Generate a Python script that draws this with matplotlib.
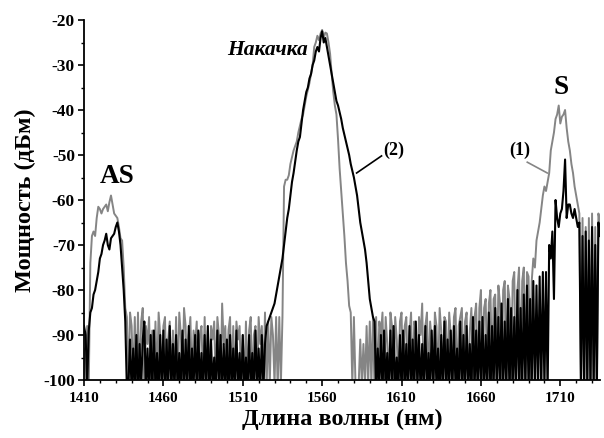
import numpy as np
import matplotlib
matplotlib.use("Agg")
import matplotlib.pyplot as plt
from matplotlib.ticker import MultipleLocator

plt.rcParams['font.family'] = ['Liberation Serif', 'DejaVu Serif']
plt.rcParams['font.weight'] = 'bold'
plt.rcParams['axes.unicode_minus'] = False

# wavelength grid, nm (1 nm step)
wl_start, wl_stop = 1410, 1735
wavelength = np.arange(wl_start, wl_stop + 1)

# Series (1) - grey, dBm
power_1 = [
    -93, -100, -88, -101, -74, -68, -67, -68, -64, -61.5,
    -62, -63, -62, -61.5, -61, -62.5, -60.5, -59, -61, -63,
    -63.5, -64, -66, -68.5, -69, -75, -84, -86, -101, -85,
    -88, -101, -86, -102, -85, -101, -87, -84, -102, -88,
    -92, -86, -101, -89, -102, -87, -101, -85, -90, -102,
    -88, -86, -101, -91, -87, -102, -89, -101, -86, -102,
    -85, -90, -101, -84, -88, -102, -90, -86, -101, -89,
    -92, -87, -102, -90, -88, -101, -86, -102, -89, -101,
    -88, -91, -87, -101, -86, -90, -102, -83, -92, -88,
    -101, -89, -86, -102, -88, -101, -87, -91, -88, -101,
    -90, -102, -87, -101, -89, -86, -102, -90, -88, -101,
    -86, -92, -88, -101, -85, -102, -87, -101, -86, -90,
    -101, -86, -102, -86, -101, -86, -57, -55.5, -55.5, -54.5,
    -52, -50.5, -49, -48, -47, -45, -43.5, -42, -41, -39,
    -37, -35.5, -34, -32, -30, -26, -25, -23.5, -24.5, -23,
    -22.2, -24, -22.8, -23, -25, -27.5, -32, -36, -39, -41,
    -46.5, -53, -58, -63, -68, -74, -78, -83.5, -85, -101,
    -86, -101, -102, -101, -91, -101, -92, -101, -88, -101,
    -87, -101, -86, -102, -86, -101, -87, -90, -85, -102,
    -86, -92, -101, -85, -88, -102, -86, -91, -101, -87,
    -85, -102, -88, -86, -101, -90, -85, -102, -87, -89,
    -101, -86, -90, -83, -102, -88, -85, -101, -87, -91,
    -102, -85, -88, -101, -84, -89, -102, -86, -87, -101,
    -85, -90, -101, -86, -84, -102, -88, -86, -84, -101,
    -87, -85, -102, -89, -84, -101, -86, -83, -102, -84,
    -80, -101, -84, -82, -102, -83, -80, -101, -82, -81,
    -102, -79, -83, -101, -80, -78, -102, -79, -82, -101,
    -78, -76, -102, -80, -75, -101, -78, -75, -102, -76,
    -77, -101, -78, -73, -75, -69, -67, -65, -62, -59,
    -57, -58, -56, -54, -49, -47, -45, -42, -41, -39,
    -43, -41.5, -41, -40, -44, -47, -49, -52, -54, -57,
    -59, -61, -63, -101, -64, -102, -66, -101, -64, -102,
    -63, -101, -66, -102, -63, -65,
]

# Series (2) - black, dBm
power_2 = [
    -88, -90, -101, -89, -85, -84, -81, -80, -78, -76,
    -73, -72, -70, -69, -67.5, -70, -71, -68.5, -68, -67.5,
    -66, -65, -67, -70, -75, -80, -87, -102, -101, -91,
    -103, -93, -102, -90, -104, -92, -102, -91, -87, -103,
    -93, -102, -90, -103, -89, -102, -94, -103, -90, -102,
    -89, -104, -91, -102, -88, -103, -92, -102, -90, -103,
    -94, -102, -89, -103, -91, -102, -88, -104, -93, -102,
    -90, -103, -89, -102, -94, -103, -90, -102, -88, -104,
    -91, -102, -95, -103, -89, -102, -90, -103, -92, -102,
    -91, -104, -90, -102, -93, -103, -89, -102, -94, -103,
    -90, -102, -95, -103, -90, -102, -94, -103, -89, -102,
    -93, -103, -90, -102, -92, -88, -87, -86, -85, -84,
    -83, -81, -79, -77, -75, -73, -70, -67, -64, -62,
    -59, -56, -54, -51.5, -49, -47, -46, -43, -40, -38,
    -36, -35, -33, -32, -30, -29, -27, -26, -27, -24,
    -22.5, -25, -24, -26, -28, -30, -32, -34, -36, -38,
    -39, -40.5, -42, -44, -45.5, -47, -48.5, -50, -52, -53.5,
    -55, -57, -59, -62, -65, -67, -69, -71, -74, -78,
    -82, -84, -86, -87, -103, -93, -102, -90, -103, -89,
    -102, -94, -103, -89, -102, -88, -103, -95, -102, -90,
    -103, -89, -102, -92, -103, -88, -102, -91, -104, -87,
    -102, -90, -103, -92, -102, -88, -103, -94, -102, -89,
    -103, -88, -102, -93, -104, -90, -102, -87, -103, -91,
    -102, -89, -103, -88, -102, -93, -104, -87, -102, -90,
    -103, -88, -102, -92, -103, -86, -102, -89, -103, -87,
    -102, -86, -103, -90, -102, -85, -104, -88, -102, -84,
    -103, -86, -102, -83, -103, -87, -102, -82, -104, -84,
    -102, -86, -103, -80, -102, -84, -103, -81, -102, -79,
    -103, -82, -102, -78, -103, -79, -102, -77, -103, -76,
    -102, -76, -103, -70, -73, -67, -82, -60, -64, -66,
    -63, -62, -58, -51, -64, -61, -61, -63, -64, -62,
    -64, -66, -65, -102, -68, -103, -67, -102, -69, -103,
    -66, -102, -70, -103, -65, -68,
]

x_ticks = [1410, 1460, 1510, 1560, 1610, 1660, 1710]
y_ticks = [-100, -90, -80, -70, -60, -50, -40, -30, -20]

fig = plt.figure(figsize=(6.04, 4.38), dpi=100)
ax = fig.add_axes([84 / 604, 1 - 380 / 438, 516 / 604, 360 / 438])

ax.plot(wavelength, power_1, color='#858585', lw=1.4, zorder=2)
ax.plot(wavelength, power_2, color='black', lw=1.5, zorder=3)

ax.set_xlim(1410, 1735)
ax.set_ylim(-100, -20)
ax.set_xticks(x_ticks)
ax.set_yticks(y_ticks)
ax.xaxis.set_minor_locator(MultipleLocator(10))
ax.yaxis.set_minor_locator(MultipleLocator(5))

for side in ('top', 'right'):
    ax.spines[side].set_visible(False)
for side in ('left', 'bottom'):
    ax.spines[side].set_linewidth(1.3)

ax.tick_params(which='major', direction='out', length=4.5, width=1.2, pad=2)
ax.tick_params(which='minor', direction='out', length=2.5, width=1.0)
ax.tick_params(axis='y', which='major', labelsize=12.5)
ax.tick_params(axis='x', which='major', labelsize=11, pad=4)
for lab in ax.get_xticklabels() + ax.get_yticklabels():
    lab.set_fontweight('bold')

ax.set_xlabel('Длина волны (нм)', fontsize=17.5, fontweight='bold', labelpad=3)
ax.set_ylabel('Мощность (дБм)', fontsize=17.5, fontweight='bold', labelpad=5)

ax.text(1430.8, -54.7, 'AS', fontsize=19.5, fontweight='bold',
        ha='center', va='center')
ax.text(1710.6, -34.9, 'S', fontsize=19.5, fontweight='bold',
        ha='center', va='center')
ax.text(1500, -27.8, 'Накачка', fontsize=15.5, fontweight='bold',
        fontstyle='italic', ha='left', va='baseline')
ax.text(1605, -48.9, '(2)', fontsize=13, fontweight='bold',
        ha='center', va='center')
ax.text(1684.2, -48.9, '(1)', fontsize=13, fontweight='bold',
        ha='center', va='center')
ax.plot([1597.4, 1581.7], [-50.2, -54.0], color='black', lw=1.2,
        clip_on=False, zorder=4)
ax.plot([1689.2, 1701.8], [-51.6, -54.0], color='#858585', lw=1.2,
        clip_on=False, zorder=4)

fig.savefig('out.png', dpi=100)
